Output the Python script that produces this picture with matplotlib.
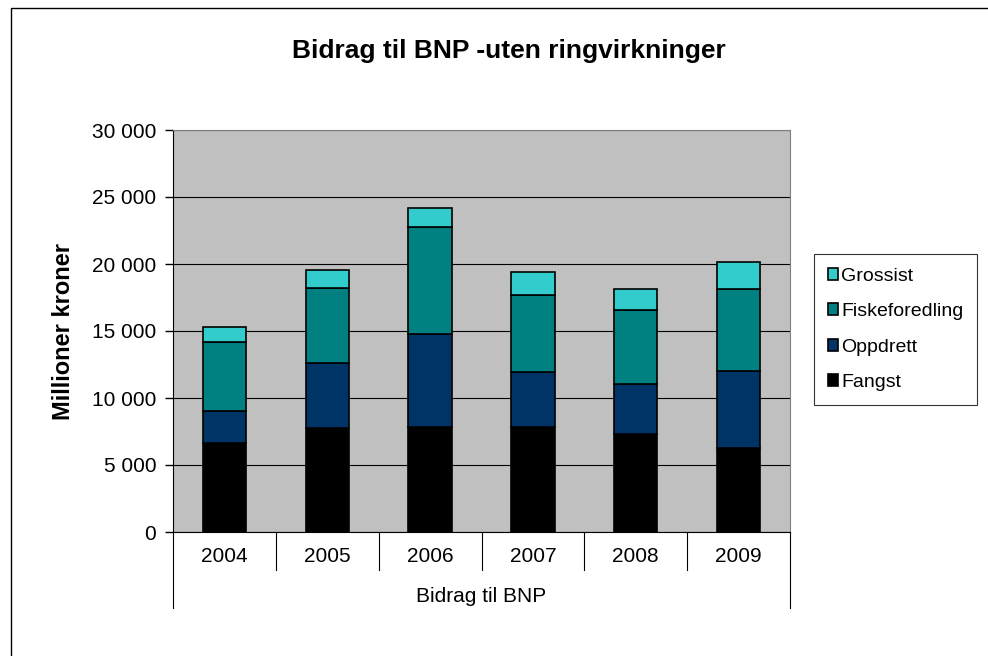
import matplotlib
matplotlib.use('Agg')
import matplotlib.pyplot as plt
from matplotlib.patches import Rectangle
from matplotlib.ticker import FuncFormatter
import numpy as np

plt.rcParams['font.family'] = ['Liberation Sans', 'DejaVu Sans']

years = ['2004', '2005', '2006', '2007', '2008', '2009']
series_names = ['Fangst', 'Oppdrett', 'Fiskeforedling', 'Grossist']
fangst = [6670, 7740, 7840, 7840, 7290, 6300]
oppdrett = [2330, 4870, 6910, 4100, 3780, 5710]
fiskeforedling = [5180, 5600, 8010, 5770, 5470, 6150]
grossist = [1120, 1320, 1400, 1670, 1570, 1970]
colors = ['#000000', '#003366', '#008080', '#33CCCC']

fig = plt.figure(figsize=(9.88, 6.56), dpi=100)
fig.patches.append(Rectangle((11/988, -0.1), 1.2, 1 - 8/656 + 0.1, transform=fig.transFigure,
                             fill=False, edgecolor='black', linewidth=1.0))

ax = fig.add_axes([173/988, 1 - 532/656, 617/988, 402/656])
ax.set_facecolor('#C0C0C0')

x = np.arange(len(years))
bottom = np.zeros(len(years))
handles = []
for name, vals, col in zip(series_names, [fangst, oppdrett, fiskeforedling, grossist], colors):
    b = ax.bar(x, vals, width=0.42, bottom=bottom, color=col, edgecolor='black',
               linewidth=1.2, label=name, zorder=3)
    handles.append(b)
    bottom += np.array(vals)

ax.set_xlim(-0.5, len(years) - 0.5)
ax.set_ylim(0, 30000)
ax.set_yticks(np.arange(0, 30001, 5000))
ax.yaxis.set_major_formatter(FuncFormatter(lambda v, p: f'{int(v):,}'.replace(',', ' ')))
ax.tick_params(axis='y', direction='out', length=6, width=1, labelsize=15, pad=6)
ax.set_xticks([])
ax.grid(axis='y', color='black', linewidth=0.8, zorder=1)

for side in ['top', 'right']:
    ax.spines[side].set_color('#808080')
ax.spines['left'].set_color('black')
ax.spines['bottom'].set_color('black')

# multi-level category axis
tr = ax.get_xaxis_transform()
for i in range(1, len(years)):
    ax.plot([i - 0.5, i - 0.5], [0, -0.095], transform=tr, color='black', lw=0.8, clip_on=False)
for edge in [-0.5, len(years) - 0.5]:
    ax.plot([edge, edge], [0, -0.189], transform=tr, color='black', lw=0.8, clip_on=False)
for i, yr in enumerate(years):
    ax.text(i, -0.06, yr, transform=tr, ha='center', va='center', fontsize=15)
ax.text((len(years) - 1) / 2, -0.16, 'Bidrag til BNP', transform=tr, ha='center', va='center', fontsize=15)

ax.set_ylabel('Millioner kroner', fontsize=17, fontweight='bold', labelpad=12)
fig.text(509/988, 1 - 51/656, 'Bidrag til BNP -uten ringvirkninger', ha='center', va='center',
         fontsize=19, fontweight='bold')

leg = fig.legend(handles[::-1], series_names[::-1], loc='upper left',
                 bbox_to_anchor=(814/988, 1 - 254/656), bbox_transform=fig.transFigure,
                 borderaxespad=0, fontsize=14, frameon=True, fancybox=False, shadow=False,
                 handlelength=0.55, handleheight=0.55, handletextpad=0.15, labelspacing=0.95,
                 borderpad=0.7)
leg.get_frame().set_edgecolor('black')
leg.get_frame().set_linewidth(0.8)

fig.savefig('out.png', dpi=100)
